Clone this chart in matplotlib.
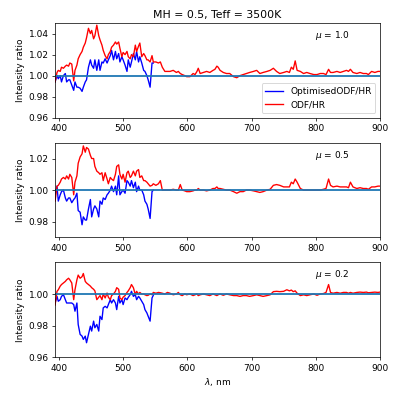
import matplotlib
matplotlib.use('Agg')
import matplotlib.pyplot as plt

# wavelength grids (nm)
wl_short = [394, 397, 399, 402, 404, 407, 410, 412, 415, 417,
            420, 423, 425, 428, 430, 433, 436, 438, 441, 443,
            446, 449, 451, 454, 456, 459, 462, 464, 467, 469,
            472, 475, 477, 480, 482, 485, 488, 490, 493, 495,
            498, 500, 503, 506, 508, 511, 513, 516, 519, 521,
            524, 526, 529, 532, 534, 537, 539, 542, 545, 547]
wl_tail = [551, 555, 558, 561, 565, 569, 573, 578, 583, 586,
           589, 592, 596, 599, 604, 609, 612, 615, 617, 620,
           625, 630, 635, 640, 643, 646, 648, 651, 656, 661,
           666, 672, 677, 682, 687, 692, 697, 703, 708, 713,
           718, 724, 729, 734, 739, 744, 750, 755, 759, 762,
           765, 768, 771, 776, 781, 786, 791, 797, 802, 807,
           812, 816, 820, 823, 827, 833, 838, 843, 848, 851,
           854, 858, 864, 869, 874, 879, 882, 887, 892, 897, 900]

# mu = 1.0
opt_10 = [0.994, 1.000, 0.997, 1.000, 0.994, 1.000, 1.002, 0.994, 0.996, 0.996,
          0.991, 0.986, 0.994, 0.989, 0.989, 0.988, 0.985, 0.989, 0.994, 0.996,
          1.008, 1.015, 1.010, 1.007, 1.015, 1.005, 1.015, 1.005, 1.013, 1.012,
          1.016, 1.012, 1.015, 1.019, 1.024, 1.015, 1.023, 1.016, 1.021, 1.013,
          1.018, 1.015, 1.010, 1.004, 1.015, 1.008, 1.013, 1.021, 1.015, 1.023,
          1.013, 1.018, 1.012, 1.005, 1.004, 1.000, 0.996, 0.989, 1.012, 1.012]
odf_10 = [0.994, 1.003, 1.005, 1.004, 1.008, 1.007, 1.009, 1.010, 1.009, 1.012,
          1.011, 0.995, 1.005, 1.010, 1.016, 1.020, 1.023, 1.027, 1.031, 1.036,
          1.045, 1.040, 1.043, 1.035, 1.038, 1.048, 1.038, 1.034, 1.029, 1.024,
          1.019, 1.016, 1.020, 1.023, 1.027, 1.029, 1.032, 1.030, 1.032, 1.026,
          1.018, 1.022, 1.020, 1.023, 1.018, 1.016, 1.020, 1.018, 1.029, 1.023,
          1.028, 1.031, 1.018, 1.021, 1.019, 1.015, 1.015, 1.013, 1.019, 1.013]
odf_10_tail = [1.013, 1.012, 1.013, 1.008, 1.004, 1.004, 1.004, 1.005, 1.003, 1.004,
               1.002, 1.001, 1.000, 0.999, 0.999, 1.002, 1.001, 1.004, 1.007, 1.002,
               1.003, 1.004, 1.003, 1.005, 1.006, 1.009, 1.008, 1.005, 1.003, 1.002,
               1.002, 0.999, 0.998, 1.000, 1.001, 1.002, 1.003, 1.004, 1.005, 1.002,
               1.003, 1.004, 1.005, 1.007, 1.004, 1.002, 1.003, 1.004, 1.003, 1.008,
               1.006, 1.014, 1.005, 1.004, 1.002, 1.003, 1.002, 1.001, 1.001, 1.002,
               1.002, 1.001, 1.006, 1.003, 1.003, 1.004, 1.003, 1.004, 1.005, 1.004,
               1.006, 1.003, 1.002, 1.003, 1.002, 1.002, 1.001, 1.004, 1.003, 1.004, 1.004]

# mu = 0.5
opt_05 = [0.997, 1.0025, 0.993, 0.997, 0.999, 1.000, 0.995, 0.993, 0.995, 0.995,
          0.992, 0.994, 0.995, 0.998, 0.987, 0.986, 0.978, 0.983, 0.981, 0.981,
          0.988, 0.994, 0.983, 0.988, 0.990, 0.988, 0.983, 0.993, 0.991, 0.995,
          0.994, 0.997, 0.998, 1.000, 1.0025, 0.999, 1.0025, 0.997, 1.009, 0.997,
          0.999, 1.000, 0.998, 1.006, 1.005, 1.0025, 1.006, 1.0015, 1.005, 0.999,
          1.0025, 1.000, 1.000, 0.997, 0.993, 0.991, 0.988, 0.982, 0.999, 1.000]
odf_05 = [0.993, 1.0025, 1.003, 1.005, 1.007, 1.008, 1.007, 1.009, 1.007, 1.010,
          1.008, 0.997, 1.005, 1.009, 1.017, 1.021, 1.023, 1.028, 1.024, 1.027,
          1.026, 1.022, 1.020, 1.020, 1.015, 1.012, 1.011, 1.010, 1.011, 1.006,
          1.011, 1.007, 1.004, 1.008, 1.007, 1.006, 1.010, 1.015, 1.016, 1.010,
          1.007, 1.010, 1.005, 1.011, 1.012, 1.008, 1.009, 1.012, 1.009, 1.012,
          1.013, 1.008, 1.009, 1.006, 1.006, 1.005, 1.004, 1.0025, 1.003, 1.004]
odf_05_tail = [1.003, 1.004, 1.006, 1.000, 1.000, 1.000, 1.000, 1.0005, 1.000, 1.000,
               1.0035, 1.000, 0.9995, 0.999, 0.999, 0.9995, 1.000, 1.000, 1.001, 1.000,
               1.000, 0.9995, 1.000, 1.001, 1.001, 1.002, 1.001, 1.001, 1.0005, 1.000,
               1.000, 0.999, 0.998, 0.999, 0.999, 1.000, 1.000, 0.9995, 0.999, 0.9985,
               0.999, 1.000, 1.0005, 1.003, 1.0035, 1.003, 1.002, 1.002, 1.002, 1.005,
               1.004, 1.007, 1.005, 1.001, 1.000, 1.000, 1.000, 1.000, 1.000, 1.000,
               1.0005, 1.001, 1.007, 1.003, 1.002, 1.0025, 1.002, 1.002, 1.002, 1.0015,
               1.005, 1.002, 1.001, 1.0015, 1.001, 1.001, 1.0005, 1.002, 1.002, 1.0025, 1.0025]

# mu = 0.2
opt_02 = [0.9943, 0.9985, 0.9954, 0.9964, 0.9985, 0.9996, 0.9964, 0.9943, 0.9943, 0.9943,
          0.9943, 0.9933, 0.9891, 0.9943, 0.9807, 0.9744, 0.9733, 0.9712, 0.9733, 0.9691,
          0.9744, 0.9796, 0.9765, 0.9828, 0.9786, 0.9807, 0.9765, 0.9859, 0.9838, 0.9912,
          0.9922, 0.9912, 0.9933, 0.9964, 0.9943, 0.9964, 0.9943, 0.9901, 0.9985, 0.9943,
          0.9964, 0.9933, 0.9975, 0.9964, 0.9979, 0.9996, 1.0017, 0.9985, 0.9996, 0.9964,
          0.9985, 0.9975, 0.9954, 0.9933, 0.9901, 0.9880, 0.9859, 0.9828, 0.9975, 0.9992]
odf_02 = [0.993, 1.0017, 1.0027, 1.005, 1.006, 1.007, 1.008, 1.009, 1.010, 1.009,
          1.007, 0.9964, 1.0027, 1.009, 1.012, 1.010, 1.011, 1.013, 1.008, 1.007,
          1.006, 1.005, 1.004, 1.003, 1.002, 0.9964, 0.998, 0.999, 0.9964, 1.000,
          0.9975, 1.0006, 0.998, 0.9964, 0.999, 1.000, 1.0017, 1.004, 1.003, 0.9975,
          0.9964, 0.998, 0.999, 1.001, 1.002, 1.004, 1.006, 1.004, 0.9996, 1.0017,
          1.000, 1.001, 1.000, 1.000, 0.9995, 0.999, 0.9992, 1.000, 0.9996, 1.001]
odf_02_tail = [1.0005, 1.001, 1.0008, 1.0005, 1.000, 1.001, 1.0005, 0.9995, 1.000, 1.001,
               0.9995, 0.999, 1.000, 0.9995, 1.000, 0.999, 0.9995, 1.000, 0.999, 0.9995,
               1.000, 0.9995, 0.999, 1.000, 0.9995, 0.999, 0.9995, 1.000, 0.9992, 1.000,
               0.9995, 0.999, 0.999, 0.9985, 0.999, 0.999, 0.9985, 0.999, 0.9995, 0.999,
               0.9985, 0.999, 0.9995, 1.0015, 1.0017, 1.0015, 1.0017, 1.0027, 1.002, 1.0025,
               1.0015, 1.002, 1.0005, 0.999, 0.9995, 0.999, 0.9995, 1.000, 0.9992, 1.000,
               1.0003, 1.001, 1.006, 1.001, 1.0005, 1.001, 1.0005, 1.001, 1.001, 1.0005,
               1.001, 1.0005, 1.001, 1.0012, 1.001, 1.0012, 1.0008, 1.001, 1.0012, 1.001, 1.0012]

mus = ['1.0', '0.5', '0.2']
opt_all = [opt_10, opt_05, opt_02]
odf_all = [odf_10 + odf_10_tail, odf_05 + odf_05_tail, odf_02 + odf_02_tail]
ylims = [(0.96, 1.05), (0.97, 1.03), (0.96, 1.02)]
yticks = [[0.96, 0.98, 1.00, 1.02, 1.04], [0.98, 1.00, 1.02], [0.96, 0.98, 1.00]]

wl_full = wl_short + wl_tail

fig, axes = plt.subplots(3, 1, figsize=(6.14, 6.14), dpi=65)
fig.subplots_adjust(left=0.138, right=0.952, top=0.942, bottom=0.105, hspace=0.265)

for i, ax in enumerate(axes):
    ax.plot(wl_short, opt_all[i], 'b', label='OptimisedODF/HR')
    ax.plot(wl_full, odf_all[i], 'r', label='ODF/HR')
    ax.axhline(1.0, color='C0', lw=2)
    ax.set_xlim(394, 900)
    ax.set_ylim(*ylims[i])
    ax.set_yticks(yticks[i])
    ax.set_ylabel('Intensity ratio')
    ax.text(0.80, 0.87, r'$\mu$ = ' + mus[i], transform=ax.transAxes, va='center')
    if i == 0:
        ax.set_title('MH = 0.5, Teff = 3500K')
        ax.legend(loc='lower right')

axes[2].set_xlabel(r'$\lambda$, nm')

plt.savefig('out.png', dpi=65)
